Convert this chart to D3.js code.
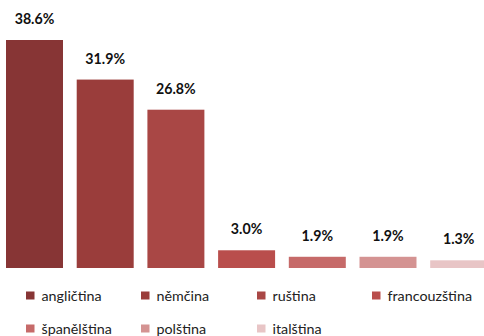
<!DOCTYPE html>
<html>
<head>
<meta charset="utf-8">
<script src="https://cdn.jsdelivr.net/npm/d3@7"></script>
<style>
  html, body { margin: 0; padding: 0; background: #fff; }
  svg { display: block; font-family: "Lato", "Open Sans", sans-serif; }
</style>
</head>
<body>
<svg id="chart" width="484" height="336"></svg>
<script>
// Languages and their shares (%)
const languages = ["angličtina", "němčina", "ruština", "francouzština", "španělština", "polština", "italština"];
const shares = [38.6, 31.9, 26.8, 3.0, 1.9, 1.9, 1.3];
const colors = ["#873535", "#9A3D3B", "#A94745", "#B94E4C", "#C66A69", "#D49392", "#E8C5C6"];

const svg = d3.select("#chart");

const x = d3.scaleBand()
  .domain(languages)
  .range([-0.85, 494.05])
  .paddingInner(0.194)
  .paddingOuter(0.097);

const y = d3.scaleLinear()
  .domain([0, 38.6])
  .range([268, 40]);

const data = languages.map((l, i) => ({ lang: l, value: shares[i], color: colors[i] }));

// Bars
svg.append("g").selectAll("rect")
  .data(data)
  .join("rect")
  .attr("x", d => x(d.lang))
  .attr("y", d => y(d.value))
  .attr("width", x.bandwidth())
  .attr("height", d => y(0) - y(d.value))
  .attr("fill", d => d.color);

// Value labels
svg.append("g").selectAll("text")
  .data(data)
  .join("text")
  .attr("x", d => x(d.lang) + x.bandwidth() / 2)
  .attr("y", d => y(d.value) - 16)
  .attr("text-anchor", "middle")
  .attr("font-size", 14.2)
  .attr("font-weight", "bold")
  .attr("fill", "#111")
  .text(d => d.value.toFixed(1) + "%");

// Legend: two rows, four columns
const colX = [26, 141, 257, 372];
const rowY = [295.5, 328.5];
const legend = svg.append("g").selectAll("g")
  .data(data)
  .join("g")
  .attr("transform", (d, i) => `translate(${colX[i % 4]},${rowY[Math.floor(i / 4)]})`);

legend.append("rect")
  .attr("x", 0)
  .attr("y", -4)
  .attr("width", 8.5)
  .attr("height", 8)
  .attr("fill", d => d.color);

legend.append("text")
  .attr("x", 15.5)
  .attr("y", 0)
  .attr("dy", "0.35em")
  .attr("font-size", 14.3)
  .attr("fill", "#222")
  .text(d => d.lang);
</script>
</body>
</html>
